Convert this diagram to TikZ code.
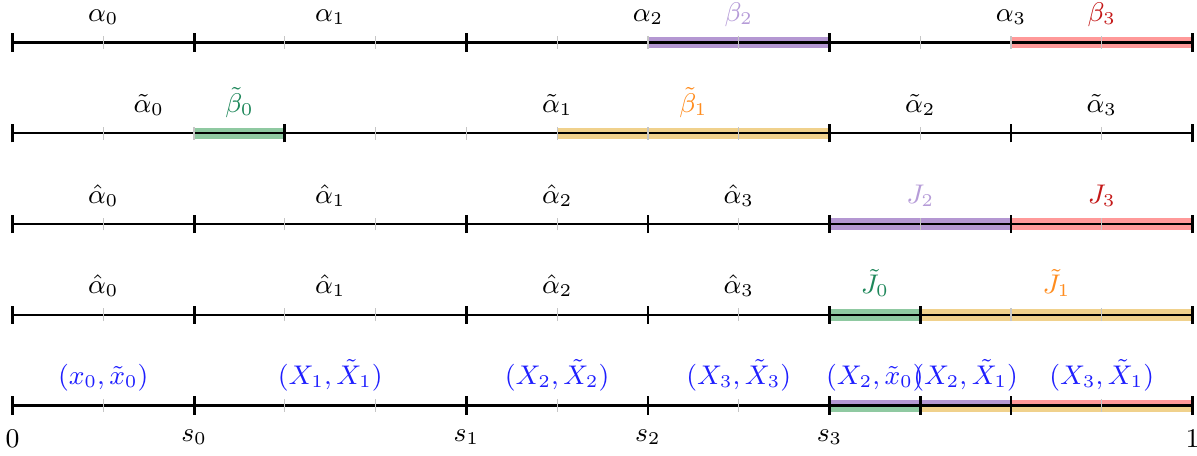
\documentclass[tikz,border=0pt]{standalone}
\usepackage{amsmath,amssymb}
\usepackage{tikz}
\usepackage{xcolor}
\usetikzlibrary{positioning, calc}

% colori delle bande e delle etichette
\definecolor{violaB}{RGB}{180,151,210}
\definecolor{violaT}{RGB}{182,156,216}
\definecolor{rossoB}{RGB}{255,153,153}
\definecolor{rossoT}{RGB}{196,24,24}
\definecolor{verdeB}{RGB}{143,201,161}
\definecolor{verdeT}{RGB}{30,135,90}
\definecolor{aranB}{RGB}{240,209,140}
\definecolor{aranT}{RGB}{255,140,30}
\definecolor{bluT}{RGB}{30,30,255}

\begin{document}
\begin{tikzpicture}[x=1cm, y=1cm, font=\small,
  asse/.style={line width=0.7pt},
  tacca/.style={gray!45, line width=0.4pt},
  taccaM/.style={line width=0.9pt},
  banda/.style={line width=3.6pt},
  mezza/.style={line width=1.9pt},
  etich/.style={anchor=base, inner sep=0pt, scale=0.94},
  sotto/.style={anchor=north, inner sep=0pt, scale=0.94}]

\useasboundingbox (-0.138,-0.545) rectangle (13.049,4.468);

% ================== Bande colorate ==================
% riga 1
\draw[banda, violaB] (7,4) -- (9,4);
\draw[banda, rossoB] (11,4) -- (13,4);
% riga 2
\draw[banda, verdeB] (2,3) -- (3,3);
\draw[banda, aranB]  (6,3) -- (9,3);
% riga 3
\draw[banda, violaB] (9,2) -- (11,2);
\draw[banda, rossoB] (11,2) -- (13,2);
% riga 4
\draw[banda, verdeB] (9,1) -- (10,1);
\draw[banda, aranB]  (10,1) -- (13,1);
% riga 5: due mezze bande
\draw[mezza, violaB] (9,0.033) -- (11,0.033);
\draw[mezza, rossoB] (11,0.033) -- (13,0.033);
\draw[mezza, verdeB] (9,-0.033) -- (10,-0.033);
\draw[mezza, aranB]  (10,-0.033) -- (13,-0.033);

% ================== Assi e tacche ==================
\foreach \r/\lista in {4/{0,2,5,9,13}, 3/{0,3,9,11,13},
    2/{0,2,5,7,9,11,13}, 1/{0,2,5,7,9,10,13}, 0/{0,2,5,7,9,10,11,13}}{
  \draw[asse] (0,\r) -- (13,\r);
  \foreach \x in {1,...,12} \draw[tacca] (\x,\r-0.07) -- (\x,\r+0.07);
  \foreach \x in \lista \draw[taccaM] (\x,\r-0.1) -- (\x,\r+0.1);
}

% ================== Etichette ==================
% riga 1
\node[etich] (a0) at (1,4.23)   {$\alpha_0$};
\node[etich] (a1) at (3.5,4.23) {$\alpha_1$};
\node[etich] (a2) at (7,4.23)   {$\alpha_2$};
\node[etich, violaT] (b2) at (8,4.23) {$\beta_2$};
\node[etich] (a3) at (11,4.23)  {$\alpha_3$};
\node[etich, rossoT] (b3) at (12,4.23) {$\beta_3$};
% riga 2
\node[etich] (ta0) at (1.5,3.23) {$\tilde\alpha_0$};
\node[etich, verdeT] (tb0) at (2.5,3.23) {$\tilde\beta_0$};
\node[etich] (ta1) at (6,3.23)   {$\tilde\alpha_1$};
\node[etich, aranT] (tb1) at (7.5,3.23) {$\tilde\beta_1$};
\node[etich] (ta2) at (10,3.23)  {$\tilde\alpha_2$};
\node[etich] (ta3) at (12,3.23)  {$\tilde\alpha_3$};
% riga 3
\node[etich] (ha0) at (1,2.23)   {$\hat\alpha_0$};
\node[etich] (ha1) at (3.5,2.23) {$\hat\alpha_1$};
\node[etich] (ha2) at (6,2.23)   {$\hat\alpha_2$};
\node[etich] (ha3) at (8,2.23)   {$\hat\alpha_3$};
\node[etich, violaT] (j2) at (10,2.23) {$J_2$};
\node[etich, rossoT] (j3) at (12,2.23) {$J_3$};
% riga 4
\node[etich] (hb0) at (1,1.23)   {$\hat\alpha_0$};
\node[etich] (hb1) at (3.5,1.23) {$\hat\alpha_1$};
\node[etich] (hb2) at (6,1.23)   {$\hat\alpha_2$};
\node[etich] (hb3) at (8,1.23)   {$\hat\alpha_3$};
\node[etich, verdeT] (tj0) at (9.5,1.23)  {$\tilde J_0$};
\node[etich, aranT]  (tj1) at (11.5,1.23) {$\tilde J_1$};
% riga 5: coppie
\begin{scope}[bluT]
\node[etich] (c0) at (1,0.23)    {$(x_0,\tilde x_0)$};
\node[etich] (c1) at (3.5,0.23)  {$(X_1,\tilde X_1)$};
\node[etich] (c2) at (6,0.23)    {$(X_2,\tilde X_2)$};
\node[etich] (c3) at (8,0.23)    {$(X_3,\tilde X_3)$};
\node[etich] (c4) at (9.5,0.23)  {$(X_2,\tilde x_0)$};
\node[etich] (c5) at (10.5,0.23) {$(X_2,\tilde X_1)$};
\node[etich] (c6) at (12,0.23)   {$(X_3,\tilde X_1)$};
\end{scope}

% punti s_i
\node[sotto] (p0) at (0,-0.26)  {$0$};
\node[sotto] (s0) at (2,-0.26)  {$s_0$};
\node[sotto] (s1) at (5,-0.26)  {$s_1$};
\node[sotto] (s2) at (7,-0.26)  {$s_2$};
\node[sotto] (s3) at (9,-0.26)  {$s_3$};
\node[sotto] (p1) at (13,-0.26) {$1$};

\end{tikzpicture}
\end{document}
